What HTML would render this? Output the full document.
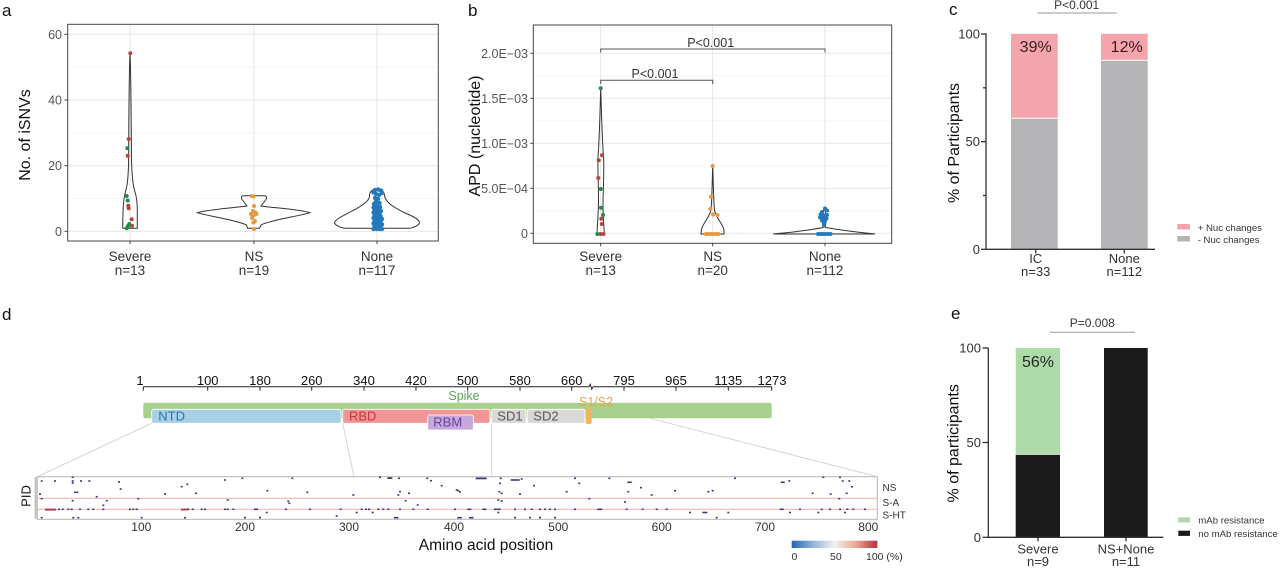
<!DOCTYPE html>
<html><head><meta charset="utf-8"><style>
html,body{margin:0;padding:0;background:#fff;}
svg{display:block;font-family:"Liberation Sans",Arial,sans-serif;}
</style></head><body>
<svg width="1280" height="568" viewBox="0 0 1280 568" xmlns="http://www.w3.org/2000/svg">
<defs>
<linearGradient id="cb" x1="0" x2="1" y1="0" y2="0">
<stop offset="0" stop-color="#2a64ad"/><stop offset="0.25" stop-color="#8fb6d9"/><stop offset="0.5" stop-color="#f2f0ee"/><stop offset="0.75" stop-color="#e9a98f"/><stop offset="1" stop-color="#b3323f"/>
</linearGradient>
</defs>
<rect width="1280" height="568" fill="#fff"/>

<!-- ===== Panel a ===== -->
<text x="2" y="16" font-size="17" fill="#111">a</text>
<g stroke="#f3f3f3" stroke-width="0.8">
<line x1="68" x2="438" y1="198.5" y2="198.5"/><line x1="68" x2="438" y1="132.8" y2="132.8"/><line x1="68" x2="438" y1="67.2" y2="67.2"/>
</g>
<g stroke="#e6e6e6" stroke-width="1">
<line x1="68" x2="438" y1="231.3" y2="231.3"/><line x1="68" x2="438" y1="165.7" y2="165.7"/><line x1="68" x2="438" y1="100" y2="100"/><line x1="68" x2="438" y1="34.3" y2="34.3"/>
<line x1="130" x2="130" y1="25" y2="241"/><line x1="254" x2="254" y1="25" y2="241"/><line x1="377" x2="377" y1="25" y2="241"/>
</g>
<rect x="67.7" y="24.3" width="370.6" height="216.7" fill="none" stroke="#444" stroke-width="1"/>
<g stroke="#444" stroke-width="1">
<line x1="64.5" x2="67.7" y1="231.3" y2="231.3"/><line x1="64.5" x2="67.7" y1="165.7" y2="165.7"/><line x1="64.5" x2="67.7" y1="100" y2="100"/><line x1="64.5" x2="67.7" y1="34.3" y2="34.3"/>
<line x1="130" x2="130" y1="241" y2="244"/><line x1="254" x2="254" y1="241" y2="244"/><line x1="377" x2="377" y1="241" y2="244"/>
</g>
<g font-size="12.5" fill="#555" text-anchor="end">
<text x="62" y="235.8">0</text><text x="62" y="170.2">20</text><text x="62" y="104.5">40</text><text x="62" y="38.8">60</text>
</g>
<g font-size="13.5" fill="#333" text-anchor="middle">
<text x="130" y="261">Severe</text><text x="130" y="275">n=13</text>
<text x="254" y="261">NS</text><text x="254" y="275">n=19</text>
<text x="377" y="261">None</text><text x="377" y="275">n=117</text>
</g>
<text transform="translate(30,135) rotate(-90)" font-size="16" fill="#111" text-anchor="middle">No. of iSNVs</text>
<g fill="none" stroke="#333" stroke-width="1">
<path d="M130,53.3 C131,70 131.2,130 131.5,160 C132,178 133,186 135,192 C137,198 137.5,206 137.3,215 C137.2,222 137.3,226 137.3,228.3 H122.7 C122.7,224 122.8,218 123,212 C123.2,204 124,196 126,190 C128,182 128.5,170 128.6,160 C128.8,130 129,70 130,53.3 Z"/>
<path d="M243,195.7 H265 Q267.5,196 266,199.5 Q262.5,204 261,206 C275,208 300,209.5 310,212.7 C300,216 270,220 261,225 L259.5,228.3 H247.5 L246.5,225 C237,220 207,216 197.3,212.7 C207,209.5 232,208 247,206 Q245.5,204 242,199.5 Q240.5,196 243,195.7 Z"/>
<path d="M377,189 C382,189 384.5,192 384.5,196 C386,203 395,208 405,213 C415,217 420,220 419.3,223 C418.5,226 413,227.5 410,228.3 H345 C339,227.3 335,225 334.5,222.5 C335.5,219 345,215 352,211 C362,206 369.5,201 369.5,196 C369.5,192 372,189 377,189 Z"/>
</g>
<g fill="#b5463b">
<circle cx="130.3" cy="53.3" r="2"/><circle cx="128.7" cy="139" r="2"/><circle cx="127.7" cy="155.7" r="2"/><circle cx="128.3" cy="205.7" r="2"/><circle cx="128.7" cy="208.3" r="2"/><circle cx="131.7" cy="219.3" r="2"/><circle cx="132" cy="225.7" r="2"/>
</g>
<g fill="#26884c">
<circle cx="127.3" cy="148.3" r="2"/><circle cx="126.7" cy="196" r="2"/><circle cx="127.7" cy="200.5" r="2"/><circle cx="129.3" cy="224" r="2"/><circle cx="128" cy="226" r="2"/><circle cx="126.7" cy="228.3" r="2"/>
</g>
<g fill="#e8993a">
<circle cx="251.7" cy="196" r="2"/><circle cx="253.5" cy="196.5" r="2"/><circle cx="254" cy="206" r="2"/><circle cx="253" cy="211" r="2"/><circle cx="255.5" cy="212.5" r="2"/><circle cx="251" cy="214" r="2"/><circle cx="253.5" cy="215.5" r="2"/><circle cx="256.5" cy="214" r="2"/><circle cx="252" cy="218" r="2"/><circle cx="255" cy="221" r="2"/><circle cx="253.3" cy="222.5" r="2"/><circle cx="254" cy="229" r="2"/>
</g>
<g fill="#2479bd">
<circle cx="375" cy="190" r="2.2"/><circle cx="378" cy="189.5" r="2.2"/><circle cx="381" cy="190.5" r="2.2"/><circle cx="373.5" cy="192.5" r="2.2"/><circle cx="382" cy="193" r="2.2"/><circle cx="376" cy="194" r="2.2"/><circle cx="379" cy="195" r="2.2"/>
<circle cx="375" cy="198" r="2.2"/><circle cx="378" cy="199" r="2.2"/><circle cx="376" cy="201.5" r="2.2"/><circle cx="379.5" cy="203" r="2.2"/><circle cx="374" cy="204" r="2.2"/>
<circle cx="376.5" cy="205.5" r="2.2"/><circle cx="373.5" cy="207.5" r="2.2"/><circle cx="377" cy="208" r="2.2"/><circle cx="380" cy="207" r="2.2"/><circle cx="374.5" cy="210" r="2.2"/><circle cx="378" cy="210.5" r="2.2"/><circle cx="381" cy="211" r="2.2"/>
<circle cx="373.5" cy="212.5" r="2.2"/><circle cx="376.5" cy="213" r="2.2"/><circle cx="379.5" cy="213.5" r="2.2"/><circle cx="374.5" cy="215.5" r="2.2"/><circle cx="377.5" cy="215.8" r="2.2"/><circle cx="380.5" cy="216" r="2.2"/>
<circle cx="373.5" cy="218" r="2.2"/><circle cx="376.5" cy="218.5" r="2.2"/><circle cx="379.5" cy="218.5" r="2.2"/><circle cx="382" cy="219" r="2.2"/><circle cx="374.5" cy="221" r="2.2"/><circle cx="377.5" cy="221" r="2.2"/><circle cx="380.5" cy="221.5" r="2.2"/>
<circle cx="373.5" cy="223.5" r="2.2"/><circle cx="376.5" cy="224" r="2.2"/><circle cx="379.5" cy="224" r="2.2"/><circle cx="382" cy="224.5" r="2.2"/><circle cx="374.5" cy="226.5" r="2.2"/><circle cx="377.5" cy="226.5" r="2.2"/><circle cx="380.5" cy="227" r="2.2"/>
<circle cx="373.5" cy="229" r="2.2"/><circle cx="376.5" cy="229" r="2.2"/><circle cx="379.5" cy="229" r="2.2"/><circle cx="382" cy="229" r="2.2"/>
</g>

<!-- ===== Panel b ===== -->
<text x="468" y="16" font-size="17" fill="#111">b</text>
<g stroke="#f3f3f3" stroke-width="0.8">
<line x1="534" x2="891" y1="210.8" y2="210.8"/><line x1="534" x2="891" y1="165.8" y2="165.8"/><line x1="534" x2="891" y1="120.8" y2="120.8"/><line x1="534" x2="891" y1="75.8" y2="75.8"/><line x1="534" x2="891" y1="30.8" y2="30.8"/>
</g>
<g stroke="#e6e6e6" stroke-width="1">
<line x1="534" x2="891" y1="233.3" y2="233.3"/><line x1="534" x2="891" y1="188.3" y2="188.3"/><line x1="534" x2="891" y1="143.3" y2="143.3"/><line x1="534" x2="891" y1="98.3" y2="98.3"/><line x1="534" x2="891" y1="53.3" y2="53.3"/>
<line x1="600.7" x2="600.7" y1="25" y2="243"/><line x1="712.7" x2="712.7" y1="25" y2="243"/><line x1="825" x2="825" y1="25" y2="243"/>
</g>
<rect x="533.3" y="25" width="358.4" height="218.3" fill="none" stroke="#444" stroke-width="1"/>
<g stroke="#444" stroke-width="1">
<line x1="530.3" x2="533.3" y1="233.3" y2="233.3"/><line x1="530.3" x2="533.3" y1="188.3" y2="188.3"/><line x1="530.3" x2="533.3" y1="143.3" y2="143.3"/><line x1="530.3" x2="533.3" y1="98.3" y2="98.3"/><line x1="530.3" x2="533.3" y1="53.3" y2="53.3"/>
<line x1="600.7" x2="600.7" y1="243.3" y2="246.3"/><line x1="712.7" x2="712.7" y1="243.3" y2="246.3"/><line x1="825" x2="825" y1="243.3" y2="246.3"/>
</g>
<g font-size="12.5" fill="#555" text-anchor="end">
<text x="528" y="237.8">0</text><text x="528" y="192.8">5.0E−04</text><text x="528" y="147.8">1.0E−03</text><text x="528" y="102.8">1.5E−03</text><text x="528" y="57.8">2.0E−03</text>
</g>
<g font-size="13.5" fill="#333" text-anchor="middle">
<text x="600.7" y="261">Severe</text><text x="600.7" y="275">n=13</text>
<text x="712.7" y="261">NS</text><text x="712.7" y="275">n=20</text>
<text x="825" y="261">None</text><text x="825" y="275">n=112</text>
</g>
<text transform="translate(480,136) rotate(-90)" font-size="16" fill="#111" text-anchor="middle">APD (nucleotide)</text>
<g fill="none" stroke="#555" stroke-width="1">
<path d="M600.7,52.5 V49 H825 V52.5"/>
<path d="M600.7,84 V80.3 H712.7 V84"/>
</g>
<g font-size="12.5" fill="#333" text-anchor="middle">
<text x="710.7" y="47">P&lt;0.001</text>
<text x="655" y="78">P&lt;0.001</text>
</g>
<g fill="none" stroke="#333" stroke-width="1">
<path d="M600.7,88.3 C601.5,110 602,140 603.5,156 C604.5,170 603,190 603,205 C603,220 604.3,230 604.3,234 H597 C597,228 598.5,215 598.5,200 C598.5,180 597.5,165 598,156 C599.5,140 600,110 600.7,88.3 Z"/>
<path d="M712.7,166 C713.3,180 713.5,200 714.5,210 C716,218 723,224 724,230 L724,234 H701 L701.5,229 C704,222 710,216 711,210 C712,200 712.2,180 712.7,166 Z"/>
<path d="M824.3,208.3 C826,212 826,222 825.5,227.5 C840,230 860,232.5 875,234 H773.3 C790,232.5 810,230 823,227.5 C822.5,222 822.5,212 824.3,208.3 Z"/>
</g>
<g fill="#b5463b">
<circle cx="602" cy="155.3" r="2"/><circle cx="598.7" cy="160.3" r="2"/><circle cx="598.3" cy="178" r="2"/><circle cx="601.3" cy="218.7" r="2"/><circle cx="601.7" cy="224" r="2"/><circle cx="600.5" cy="234" r="2"/><circle cx="603.5" cy="234" r="2"/>
</g>
<g fill="#26884c">
<circle cx="600.7" cy="88.3" r="2"/><circle cx="600.7" cy="189" r="2"/><circle cx="601" cy="207.7" r="2"/><circle cx="603" cy="215" r="2"/><circle cx="597.3" cy="234" r="2"/>
</g>
<g fill="#e8993a">
<circle cx="712.7" cy="166" r="2"/><circle cx="711" cy="196.7" r="2"/><circle cx="710.3" cy="209" r="2"/><circle cx="713" cy="214.5" r="2"/><circle cx="717.5" cy="215" r="2"/>
<circle cx="706" cy="234" r="2"/><circle cx="708.5" cy="234" r="2"/><circle cx="711" cy="234" r="2"/><circle cx="713.5" cy="234" r="2"/><circle cx="716" cy="234" r="2"/><circle cx="718.5" cy="234" r="2"/>
</g>
<g fill="#2479bd">
<circle cx="825" cy="208.5" r="2"/><circle cx="827" cy="210.5" r="2"/><circle cx="822" cy="212" r="2"/><circle cx="820.5" cy="214.5" r="2"/><circle cx="823.5" cy="215.5" r="2"/><circle cx="827" cy="215" r="2"/><circle cx="820" cy="217.5" r="2"/><circle cx="823" cy="218" r="2"/><circle cx="826.5" cy="218.5" r="2"/><circle cx="822" cy="220.5" r="2"/><circle cx="825" cy="221" r="2"/><circle cx="824" cy="223" r="2"/><circle cx="824" cy="225.5" r="2"/>
<circle cx="818" cy="234" r="2"/><circle cx="820.5" cy="234" r="2"/><circle cx="823" cy="234" r="2"/><circle cx="825.5" cy="234" r="2"/><circle cx="828" cy="234" r="2"/><circle cx="830.5" cy="234" r="2"/>
</g>

<!-- ===== Panel c ===== -->
<text x="949" y="15" font-size="17" fill="#111">c</text>
<line x1="1037.3" x2="1116.7" y1="13" y2="13" stroke="#999" stroke-width="1"/>
<text x="1076.7" y="9" font-size="12" fill="#333" text-anchor="middle">P&lt;0.001</text>
<rect x="1011" y="33.8" width="46.7" height="84.5" fill="#f4a4ac"/>
<rect x="1011" y="118.3" width="46.7" height="131" fill="#b4b4b6"/>
<line x1="1011" x2="1057.7" y1="118.3" y2="118.3" stroke="#fff" stroke-width="1"/>
<rect x="1101" y="33.8" width="46.7" height="26.5" fill="#f4a4ac"/>
<rect x="1101" y="60.3" width="46.7" height="189" fill="#b4b4b6"/>
<line x1="1101" x2="1147.7" y1="60.3" y2="60.3" stroke="#fff" stroke-width="1"/>
<g font-size="16" fill="#3a1c1c" text-anchor="middle">
<text x="1035.7" y="52">39%</text><text x="1126.7" y="52">12%</text>
</g>
<g stroke="#333" stroke-width="1.3">
<line x1="986" x2="986" y1="33.3" y2="249.3"/><line x1="985.4" x2="1155" y1="249.3" y2="249.3"/>
<line x1="981" x2="986" y1="34" y2="34"/><line x1="981" x2="986" y1="141.7" y2="141.7"/><line x1="981" x2="986" y1="249.3" y2="249.3"/>
<line x1="983" x2="986" y1="87.8" y2="87.8"/><line x1="983" x2="986" y1="195.5" y2="195.5"/>
<line x1="1035.7" x2="1035.7" y1="249.3" y2="253.5"/><line x1="1124.3" x2="1124.3" y1="249.3" y2="253.5"/>
</g>
<g font-size="13" fill="#333" text-anchor="end">
<text x="980" y="38.5">100</text><text x="980" y="146.2">50</text><text x="980" y="253.8">0</text>
</g>
<g font-size="13" fill="#333" text-anchor="middle">
<text x="1035.7" y="263">IC</text><text x="1035.7" y="276">n=33</text>
<text x="1124.3" y="263">None</text><text x="1124.3" y="276">n=112</text>
</g>
<text transform="translate(959,143) rotate(-90)" font-size="16" fill="#111" text-anchor="middle">% of Participants</text>
<rect x="1177.3" y="224" width="12.7" height="5.5" fill="#f4a4ac"/>
<rect x="1177.3" y="236" width="12.7" height="5.5" fill="#b4b4b6"/>
<g font-size="9.6" fill="#333">
<text x="1197.7" y="231">+ Nuc changes</text><text x="1197.7" y="243">-  Nuc changes</text>
</g>

<!-- ===== Panel d ===== -->
<text x="2" y="320" font-size="17" fill="#111">d</text>
<g stroke="#222" stroke-width="1" fill="none">
<line x1="143.3" x2="589" y1="386.7" y2="386.7"/>
<path d="M589,386.7 l1.2,-2.5 l1.6,5 l1.2,-2.5"/>
<line x1="593" x2="771.7" y1="386.7" y2="386.7"/>
<line x1="143.3" x2="143.3" y1="386.7" y2="390.7"/><line x1="207.7" x2="207.7" y1="386.7" y2="390.7"/><line x1="260" x2="260" y1="386.7" y2="390.7"/><line x1="311.7" x2="311.7" y1="386.7" y2="390.7"/><line x1="364" x2="364" y1="386.7" y2="390.7"/><line x1="416" x2="416" y1="386.7" y2="390.7"/><line x1="467.7" x2="467.7" y1="386.7" y2="390.7"/><line x1="520" x2="520" y1="386.7" y2="390.7"/><line x1="571.7" x2="571.7" y1="386.7" y2="390.7"/><line x1="624" x2="624" y1="386.7" y2="390.7"/><line x1="676" x2="676" y1="386.7" y2="390.7"/><line x1="728.3" x2="728.3" y1="386.7" y2="390.7"/><line x1="771.7" x2="771.7" y1="386.7" y2="390.7"/>
</g>
<g font-size="13" fill="#111" text-anchor="middle">
<text x="140" y="385">1</text><text x="207.7" y="385">100</text><text x="260" y="385">180</text><text x="311.7" y="385">260</text><text x="364" y="385">340</text><text x="416" y="385">420</text><text x="467.7" y="385">500</text><text x="520" y="385">580</text><text x="571.7" y="385">660</text><text x="624" y="385">795</text><text x="676" y="385">965</text><text x="728.3" y="385">1135</text><text x="772" y="385">1273</text>
</g>
<!-- zoom lines -->
<g stroke="#d4d4d4" stroke-width="1" fill="none">
<line x1="37.3" y1="476.7" x2="151.7" y2="423.3"/>
<line x1="342.7" y1="423.3" x2="354" y2="476.7"/>
<line x1="491.7" y1="423.3" x2="491.7" y2="476.7"/>
<line x1="650" y1="418.3" x2="877.3" y2="476.7"/>
</g>
<rect x="143.3" y="402.7" width="628.4" height="15.6" rx="2" fill="#a9d18e"/>
<text x="464" y="400" font-size="12.5" fill="#5aa55a" text-anchor="middle">Spike</text>
<rect x="151.7" y="409.3" width="189.3" height="14" rx="2" fill="#a7cfe6" stroke="#fff" stroke-width="0.8"/>
<rect x="342.7" y="409.3" width="147.3" height="14" rx="2" fill="#f19597" stroke="#fff" stroke-width="0.8"/>
<rect x="427.7" y="415" width="45.6" height="15" rx="2" fill="#c6a9db" stroke="#fff" stroke-width="0.8"/>
<rect x="491.7" y="409.3" width="34.3" height="14" rx="1.5" fill="#d8d8d8" stroke="#fff" stroke-width="0.8"/>
<rect x="527.3" y="409.3" width="57.7" height="14" rx="1.5" fill="#d8d8d8" stroke="#fff" stroke-width="0.8"/>
<rect x="585.7" y="408.5" width="6" height="15.5" rx="2" fill="#f2b45c"/>
<text x="158.3" y="420.7" font-size="13" fill="#2f73ad">NTD</text>
<text x="349" y="420.7" font-size="13" fill="#c5373a">RBD</text>
<text x="433.3" y="426.7" font-size="13" fill="#6b3e9c">RBM</text>
<text x="497.3" y="420.7" font-size="13" fill="#555">SD1</text>
<text x="533.3" y="420.7" font-size="13" fill="#555">SD2</text>
<text x="579" y="406" font-size="12.5" fill="#e9a248">S1/S2</text>

<!-- heatmap -->
<rect x="37.3" y="476.7" width="840" height="42.6" fill="#fff" stroke="#b5b5b5" stroke-width="1"/>
<rect x="34.5" y="477" width="2.8" height="42" fill="#c4c4c4"/>
<g stroke="#eab0b0" stroke-width="1">
<line x1="37.3" x2="877.3" y1="498.3" y2="498.3"/><line x1="37.3" x2="877.3" y1="509.3" y2="509.3"/>
</g>
<g fill="#b8384a">
<rect x="45" y="508.6" width="11" height="2"/><rect x="181" y="508.6" width="7" height="1.8"/>
</g>
<g fill="#3b3b78">
<rect x="40.7" y="480.2" width="2" height="1.6"/><rect x="54" y="480.2" width="2" height="1.6"/><rect x="71.7" y="476.5" width="2" height="1.6"/><rect x="71.7" y="480.2" width="2" height="1.6"/><rect x="71.7" y="482.2" width="2" height="1.6"/><rect x="80" y="480.2" width="2" height="1.6"/><rect x="88.3" y="480.2" width="2" height="1.6"/><rect x="118" y="481.2" width="2" height="1.6"/><rect x="119.7" y="488.2" width="2" height="1.6"/><rect x="39" y="493.2" width="2" height="1.6"/><rect x="74" y="491.5" width="2" height="1.6"/><rect x="76.3" y="491.5" width="2" height="1.6"/><rect x="95.7" y="495.9" width="2" height="1.6"/><rect x="164" y="493.2" width="2" height="1.6"/><rect x="180.7" y="485.9" width="2" height="1.6"/><rect x="186.3" y="483.5" width="2" height="1.6"/><rect x="195" y="492.5" width="2" height="1.6"/><rect x="224" y="479.2" width="2" height="1.6"/><rect x="241.3" y="477.5" width="2" height="1.6"/><rect x="291.3" y="477.5" width="2" height="1.6"/><rect x="266.3" y="489.9" width="2" height="1.6"/><rect x="306.3" y="491.5" width="2" height="1.6"/><rect x="379" y="476.5" width="2" height="1.6"/><rect x="387.3" y="477.2" width="5" height="1.8"/><rect x="398" y="477.5" width="2" height="1.6"/><rect x="426.3" y="477.5" width="2" height="1.6"/><rect x="430" y="479.9" width="2" height="1.6"/><rect x="440.7" y="484.9" width="2" height="1.6"/><rect x="399" y="490.9" width="2" height="1.6"/><rect x="397.3" y="494.2" width="2" height="1.6"/><rect x="408" y="492.5" width="2" height="1.6"/><rect x="455.7" y="489.2" width="2" height="1.6"/><rect x="352.3" y="494.2" width="2" height="1.6"/>
<rect x="475.7" y="477.5" width="11" height="1.8"/><rect x="499.7" y="477.5" width="2" height="1.6"/><rect x="510.7" y="479.2" width="9" height="1.6"/><rect x="520.7" y="478.2" width="2" height="1.6"/><rect x="499" y="482.5" width="2" height="1.6"/><rect x="533" y="484.9" width="2" height="1.6"/><rect x="574" y="477.5" width="2" height="1.6"/><rect x="578.3" y="482.5" width="2" height="1.6"/><rect x="608.3" y="477.5" width="2" height="1.6"/><rect x="627.3" y="481.5" width="4.5" height="1.6"/><rect x="640" y="486.9" width="2" height="1.6"/><rect x="734" y="477.5" width="2" height="1.6"/><rect x="780.7" y="481.5" width="4" height="1.6"/><rect x="788.3" y="480.2" width="2" height="1.6"/><rect x="822.3" y="476.5" width="2" height="1.6"/><rect x="839" y="476.5" width="2" height="1.6"/><rect x="841.7" y="480.2" width="2" height="1.6"/><rect x="848.3" y="480.2" width="2" height="1.6"/><rect x="851" y="485.9" width="2" height="1.6"/>
<rect x="457.3" y="489.9" width="2" height="1.6"/><rect x="459" y="491.2" width="2" height="1.6"/><rect x="498.3" y="490.9" width="2" height="1.6"/><rect x="500.7" y="492.5" width="2" height="1.6"/><rect x="519" y="493.2" width="2" height="1.6"/><rect x="565.7" y="490.9" width="2" height="1.6"/><rect x="627.3" y="490.9" width="2" height="1.6"/><rect x="650.7" y="494.2" width="2" height="1.6"/><rect x="674" y="489.9" width="2" height="1.6"/><rect x="707.3" y="490.9" width="2" height="1.6"/><rect x="711.7" y="489.9" width="2" height="1.6"/><rect x="811.7" y="492.5" width="2" height="1.6"/><rect x="829.7" y="493.2" width="2" height="1.6"/><rect x="845.7" y="492.5" width="2" height="1.6"/>
<rect x="71.7" y="499.9" width="2" height="1.6"/><rect x="105.7" y="499.9" width="2" height="1.6"/><rect x="102.3" y="504.5" width="2" height="1.6"/><rect x="137.3" y="497.9" width="2" height="1.6"/><rect x="226.7" y="499.2" width="2" height="1.6"/><rect x="287.3" y="500.5" width="2" height="1.6"/><rect x="288.3" y="502.5" width="2" height="1.6"/><rect x="404.7" y="499.9" width="2" height="1.6"/><rect x="416.7" y="504.2" width="2" height="1.6"/><rect x="497.3" y="499.2" width="2" height="1.6"/><rect x="500.7" y="500.2" width="2" height="1.6"/><rect x="588.3" y="497.9" width="2" height="1.6"/><rect x="624" y="501.2" width="2" height="1.6"/><rect x="838.3" y="497.9" width="2" height="1.6"/><rect x="40.7" y="497.9" width="2" height="1.6"/>
<rect x="58" y="508.5" width="2" height="1.6"/><rect x="61.7" y="508.5" width="2" height="1.6"/><rect x="67.3" y="508.5" width="2" height="1.6"/><rect x="70.7" y="508.5" width="2" height="1.6"/><rect x="79" y="508.5" width="2" height="1.6"/><rect x="87.3" y="508.5" width="2" height="1.6"/><rect x="92.3" y="508.5" width="2" height="1.6"/><rect x="102.3" y="508.5" width="2" height="1.6"/><rect x="129" y="508.5" width="2" height="1.6"/><rect x="132.3" y="508.5" width="2" height="1.6"/><rect x="135.7" y="508.5" width="2" height="1.6"/><rect x="187.3" y="508.5" width="2" height="1.6"/><rect x="191.7" y="508.5" width="2" height="1.6"/><rect x="200.7" y="508.5" width="2" height="1.6"/><rect x="204" y="508.5" width="2" height="1.6"/><rect x="224" y="508.5" width="2" height="1.6"/><rect x="226.7" y="508.5" width="2" height="1.6"/><rect x="232.3" y="508.5" width="2" height="1.6"/><rect x="254" y="508.5" width="4" height="1.6"/><rect x="285" y="508.5" width="2" height="1.6"/><rect x="309" y="508.5" width="2" height="1.6"/><rect x="339.7" y="508.5" width="2" height="1.6"/><rect x="360.7" y="508.5" width="2" height="1.6"/><rect x="365" y="508.5" width="2" height="1.6"/><rect x="368" y="508.5" width="2" height="1.6"/><rect x="377.3" y="508.5" width="2" height="1.6"/><rect x="382.3" y="508.5" width="2" height="1.6"/><rect x="387.3" y="508.5" width="2" height="1.6"/><rect x="399" y="508.5" width="2" height="1.6"/><rect x="412.3" y="508.5" width="2" height="1.6"/><rect x="426.7" y="508.5" width="2" height="1.6"/>
<rect x="454" y="508.5" width="2" height="1.6"/><rect x="467.3" y="508.5" width="4" height="1.6"/><rect x="482.3" y="508.5" width="4" height="1.6"/><rect x="494" y="508.5" width="2" height="1.6"/><rect x="496.3" y="508.5" width="4.5" height="1.6"/><rect x="514" y="508.5" width="2" height="1.6"/><rect x="524" y="508.5" width="2" height="1.6"/><rect x="530.7" y="508.5" width="2" height="1.6"/><rect x="539" y="508.5" width="2" height="1.6"/><rect x="544" y="508.5" width="2" height="1.6"/><rect x="549" y="508.5" width="2" height="1.6"/><rect x="554" y="508.5" width="2" height="1.6"/><rect x="574" y="508.5" width="2" height="1.6"/><rect x="597.3" y="508.5" width="5" height="1.6"/><rect x="625.7" y="508.5" width="2" height="1.6"/><rect x="641.7" y="508.5" width="2" height="1.6"/><rect x="655.7" y="508.5" width="2" height="1.6"/><rect x="665.7" y="508.5" width="2" height="1.6"/><rect x="779.7" y="508.5" width="4" height="1.6"/><rect x="799" y="508.5" width="2" height="1.6"/><rect x="820.7" y="508.5" width="2" height="1.6"/><rect x="829" y="508.5" width="2" height="1.6"/><rect x="839" y="508.5" width="2" height="1.6"/><rect x="846.3" y="508.5" width="2" height="1.6"/><rect x="852.3" y="508.5" width="2" height="1.6"/><rect x="864" y="508.5" width="2" height="1.6"/>
<rect x="265.7" y="511.7" width="2" height="1.6"/><rect x="355.7" y="511.7" width="2" height="1.6"/><rect x="371.7" y="511.7" width="2" height="1.6"/><rect x="497.3" y="511.7" width="2" height="1.6"/><rect x="689" y="511.7" width="2" height="1.6"/><rect x="702.3" y="511.7" width="5" height="1.6"/><rect x="727.3" y="511.7" width="2" height="1.6"/><rect x="789" y="511.7" width="2" height="1.6"/><rect x="817.3" y="511.7" width="2" height="1.6"/><rect x="844" y="511.7" width="2" height="1.6"/>
<rect x="40.7" y="516.9" width="2" height="1.6"/><rect x="72.3" y="516.9" width="2" height="1.6"/><rect x="77.3" y="516.9" width="2" height="1.6"/><rect x="140.7" y="516.9" width="2" height="1.6"/><rect x="184" y="516.9" width="2" height="1.6"/><rect x="244" y="516.9" width="2" height="1.6"/><rect x="259" y="516.9" width="2" height="1.6"/><rect x="335.7" y="515.2" width="2" height="1.6"/><rect x="394" y="516.9" width="4.5" height="1.6"/><rect x="457.3" y="516.9" width="4.5" height="1.6"/><rect x="469" y="516.9" width="4.5" height="1.6"/><rect x="514" y="516.9" width="2" height="1.6"/><rect x="529" y="516.9" width="2" height="1.6"/><rect x="539" y="516.9" width="2" height="1.6"/><rect x="554" y="516.9" width="2" height="1.6"/><rect x="715.7" y="516.9" width="2" height="1.6"/>
</g>
<g font-size="10" fill="#333">
<text x="882.5" y="491">NS</text><text x="882.5" y="506">S-A</text><text x="882.5" y="518.7">S-HT</text>
</g>
<text transform="translate(30.5,496) rotate(-90)" font-size="13" fill="#111" text-anchor="middle">PID</text>
<g font-size="12" fill="#333" text-anchor="middle">
<text x="141.3" y="531">100</text><text x="245" y="531">200</text><text x="349" y="531">300</text><text x="454" y="531">400</text><text x="558.3" y="531">500</text><text x="661.7" y="531">600</text><text x="765" y="531">700</text><text x="868.3" y="531">800</text>
</g>
<text x="486" y="550" font-size="15.5" fill="#111" text-anchor="middle">Amino acid position</text>
<rect x="791.7" y="540.7" width="85.6" height="7.3" fill="url(#cb)"/>
<g font-size="10.5" fill="#333">
<text x="791.5" y="560">0</text><text x="830" y="560">50</text><text x="866" y="560">100 (%)</text>
</g>

<!-- ===== Panel e ===== -->
<text x="951" y="319" font-size="17" fill="#111">e</text>
<line x1="1050" x2="1135" y1="332.3" y2="332.3" stroke="#999" stroke-width="1"/>
<text x="1092.3" y="327" font-size="12" fill="#333" text-anchor="middle">P=0.008</text>
<rect x="1015.7" y="348" width="44.3" height="106.3" fill="#acdaa9"/>
<rect x="1015.7" y="454.3" width="44.3" height="83" fill="#1b1b1b"/>
<line x1="1015.7" x2="1060" y1="454.3" y2="454.3" stroke="#fff" stroke-width="0.8"/>
<rect x="1104" y="348" width="43.7" height="189.3" fill="#1b1b1b"/>
<text x="1038" y="367" font-size="16" fill="#1e2a1e" text-anchor="middle">56%</text>
<g stroke="#333" stroke-width="1.3">
<line x1="988.3" x2="988.3" y1="347.7" y2="537.3"/><line x1="987.7" x2="1163.3" y1="537.3" y2="537.3"/>
<line x1="982.5" x2="988.3" y1="348" y2="348"/><line x1="982.5" x2="988.3" y1="442.5" y2="442.5"/><line x1="982.5" x2="988.3" y1="537.3" y2="537.3"/>
<line x1="1038" x2="1038" y1="537.3" y2="541.5"/><line x1="1126" x2="1126" y1="537.3" y2="541.5"/>
</g>
<g font-size="13" fill="#333" text-anchor="end">
<text x="981" y="352.5">100</text><text x="981" y="447">50</text><text x="981" y="541.8">0</text>
</g>
<g font-size="13" fill="#333" text-anchor="middle">
<text x="1038" y="553.5">Severe</text><text x="1038" y="566">n=9</text>
<text x="1126" y="553.5">NS+None</text><text x="1126" y="566">n=11</text>
</g>
<text transform="translate(958.5,443.3) rotate(-90)" font-size="16" fill="#111" text-anchor="middle">% of participants</text>
<rect x="1178.3" y="517.3" width="11.7" height="5.2" fill="#acdaa9"/>
<rect x="1178.3" y="530.7" width="11.7" height="5.2" fill="#1b1b1b"/>
<g font-size="9.6" fill="#333">
<text x="1198.3" y="523.5">mAb resistance</text><text x="1198.3" y="536.8">no mAb resistance</text>
</g>
</svg>
</body></html>
